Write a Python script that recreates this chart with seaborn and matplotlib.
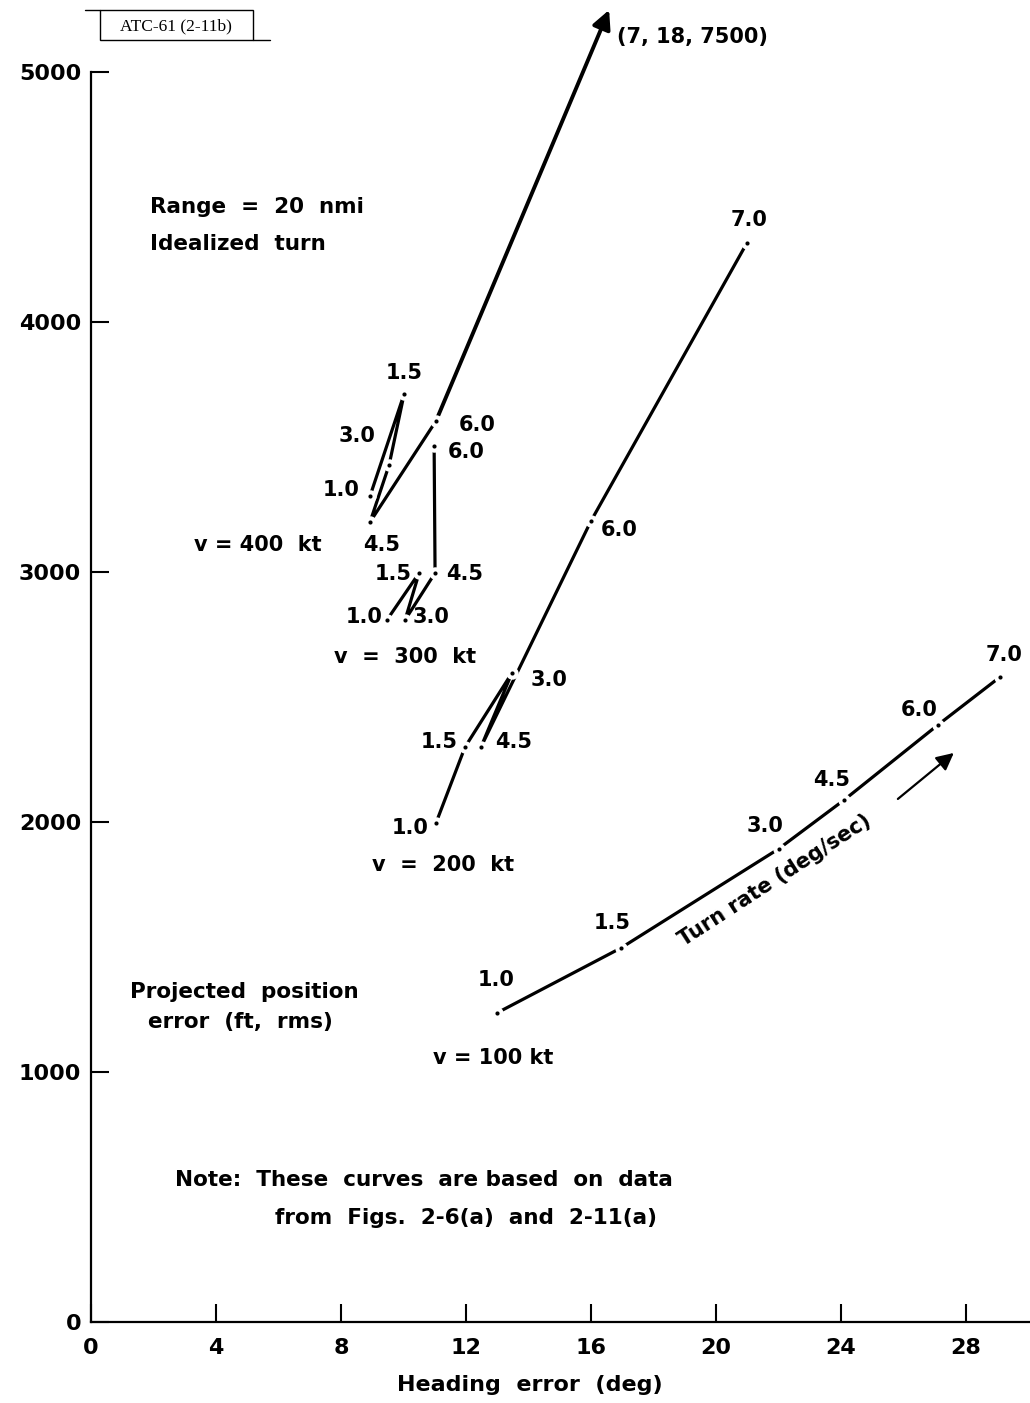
import matplotlib
matplotlib.use("Agg")
import matplotlib.pyplot as plt
import pandas as pd
import seaborn as sns
from matplotlib.lines import Line2D
from matplotlib.patches import Rectangle

# ---------------------------------------------------------------- data
# Heading error (deg) and projected position error (ft, rms) for an
# idealized turn at 20 nmi range, one curve per airspeed; points are
# listed in order of turn rate (deg/sec).
rates_400 = [1.0, 1.5, 3.0, 4.5, 6.0]
heading_400 = [8.93, 10.02, 9.54, 8.93, 11.04]
error_400 = [3303, 3711, 3427, 3199, 3603]
offscale_400_label = "(7, 18, 7500)"   # 7.0 deg/sec point lies off scale

rates_300 = [1.0, 1.5, 3.0, 4.5, 6.0]
heading_300 = [9.47, 10.50, 10.05, 11.01, 10.98]
error_300 = [2807, 2995, 2807, 2995, 3503]

rates_200 = [1.0, 1.5, 3.0, 4.5, 6.0, 7.0]
heading_200 = [11.04, 11.97, 13.47, 12.48, 16.0, 20.99]
error_200 = [1995, 2299, 2595, 2299, 3203, 4315]

rates_100 = [1.0, 1.5, 3.0, 4.5, 6.0, 7.0]
heading_100 = [12.99, 16.96, 22.0, 24.1, 27.1, 29.09]
error_100 = [1235, 1495, 1891, 2087, 2387, 2579]

x_ticks = [0, 4, 8, 12, 16, 20, 24, 28]
y_ticks = [0, 1000, 2000, 3000, 4000, 5000]

# ---------------------------------------------------------------- layout
W, H = 1030, 1403
FONT = ["DejaVu Sans"]

# offsets (pixels) of each turn-rate label from its point
off_400 = [(-29, 6), (0, 21), (-32, 29), (12, -23), (41, -4)]
off_300 = [(-23, 3), (-26, -1), (26, 3), (30, -1), (32, -6)]
off_200 = [(-26, -5), (-26, 5), (37, -7), (33, 5), (28, -9), (2, 23)]
off_100 = [(-1, 33), (-9, 25), (-13, 23), (-13, 20), (-19, 15), (4, 22)]

# end of the off-scale arrow for the 400 kt curve (data units)
arrow_end_400 = (16.58, 5247)


def fxy(px, py):
    """Figure fraction from pixel position (origin top-left)."""
    return px / W, 1 - py / H


sns.set_style("ticks")
plt.rcParams["font.family"] = FONT
plt.rcParams["font.weight"] = "bold"
plt.rcParams["text.color"] = "black"
plt.rcParams["xtick.color"] = "black"
plt.rcParams["ytick.color"] = "black"

fig = plt.figure(figsize=(W / 100, H / 100), dpi=100)
ax = fig.add_axes([91 / W, (H - 1321.7) / H, 937.5 / W, 1250 / H])
ax.set_xlim(0, 30)
ax.set_ylim(0, 5000)

LW = 2.3
curves = [
    (rates_400, heading_400, error_400, off_400),
    (rates_300, heading_300, error_300, off_300),
    (rates_200, heading_200, error_200, off_200),
    (rates_100, heading_100, error_100, off_100),
]

# off-scale continuation of the 400 kt curve
ax.annotate("", xy=arrow_end_400, xytext=(heading_400[-1], error_400[-1]),
            xycoords="data", textcoords="data", annotation_clip=False,
            arrowprops=dict(arrowstyle="-|>", lw=2.8, color="black",
                            mutation_scale=28, shrinkA=0, shrinkB=0),
            zorder=2)
ax.annotate(offscale_400_label, xy=arrow_end_400, xytext=(8, -27),
            textcoords="offset pixels", ha="left", va="center",
            fontsize=15, fontweight="bold", annotation_clip=False)

for rates, hx, ey, offs in curves:
    df = pd.DataFrame({"heading": hx, "error": ey, "rate": rates})
    sns.lineplot(data=df, x="heading", y="error", sort=False,
                 estimator=None, color="black", lw=LW, ax=ax, zorder=2)

for rates, hx, ey, offs in curves:
    df = pd.DataFrame({"heading": hx, "error": ey})
    # white halo leaves a small gap round each point, then the dot
    sns.scatterplot(data=df, x="heading", y="error", s=80, color="white",
                    linewidth=0, ax=ax, zorder=3)
    sns.scatterplot(data=df, x="heading", y="error", s=9, color="black",
                    linewidth=0, ax=ax, zorder=4)
    for r, x, y, (dx, dy) in zip(rates, hx, ey, offs):
        ax.annotate(f"{r:.1f}", xy=(x, y), xytext=(dx, dy),
                    textcoords="offset pixels", ha="center", va="center",
                    fontsize=15, fontweight="bold", zorder=5)

# turn-rate direction arrow beside the 100 kt curve
ax.annotate("", xy=(27.61, 2275), xytext=(25.82, 2091),
            arrowprops=dict(arrowstyle="-|>", lw=1.6, color="black",
                            mutation_scale=26, shrinkA=0, shrinkB=0))
ax.text(21.9, 1766, "Turn rate (deg/sec)", rotation=33,
        rotation_mode="anchor", ha="center", va="center",
        fontsize=15, fontweight="bold")

ax.set_xticks(x_ticks)
ax.set_yticks(y_ticks)
ax.tick_params(direction="in", length=13, width=1.5, labelsize=16,
               colors="black")
ax.tick_params(axis="x", pad=12)
ax.tick_params(axis="y", pad=7)
for lbl in ax.get_xticklabels() + ax.get_yticklabels():
    lbl.set_fontweight("bold")
ax.set_xlabel("")
ax.set_ylabel("")
sns.despine(ax=ax)
for s in ("left", "bottom"):
    ax.spines[s].set_linewidth(1.6)
    ax.spines[s].set_color("black")

# free text on the figure
txt = dict(fontsize=15.5, fontweight="bold", va="center")
fig.text(*fxy(150, 207), "Range  =  20  nmi", ha="left", **txt)
fig.text(*fxy(150, 244), "Idealized  turn", ha="left", **txt)
fig.text(*fxy(130, 992), "Projected  position", ha="left", **txt)
fig.text(*fxy(148, 1022), "error  (ft,  rms)", ha="left", **txt)
fig.text(*fxy(175, 1180), "Note:  These  curves  are based  on  data",
         ha="left", **txt)
fig.text(*fxy(275, 1218), "from  Figs.  2-6(a)  and  2-11(a)", ha="left", **txt)

vtxt = dict(fontsize=15, fontweight="bold", ha="center", va="center")
fig.text(*fxy(258, 545), "v = 400  kt", **vtxt)
fig.text(*fxy(405, 657), "v  =  300  kt", **vtxt)
fig.text(*fxy(443, 865), "v  =  200  kt", **vtxt)
fig.text(*fxy(493, 1058), "v = 100 kt", **vtxt)

fig.text(*fxy(530, 1385), "Heading  error  (deg)", ha="center", va="center",
         fontsize=16, fontweight="bold")

# document tag in the top-left corner
fig.text(*fxy(176, 26), "ATC-61 (2-11b)", ha="center", va="center",
         fontsize=12.5, fontweight="normal", family="Liberation Serif")
x0, y0 = fxy(100, 40)
x1, y1 = fxy(253, 10)
fig.add_artist(Rectangle((x0, y0), x1 - x0, y1 - y0, transform=fig.transFigure,
                         fill=False, lw=1.0, ec="black"))
fig.add_artist(Line2D([85 / W, 100 / W], [y1, y1], transform=fig.transFigure,
                      lw=1.0, color="black"))
fig.add_artist(Line2D([253 / W, 270 / W], [y0, y0], transform=fig.transFigure,
                      lw=1.0, color="black"))

fig.savefig("out.png", dpi=100, facecolor="white")
